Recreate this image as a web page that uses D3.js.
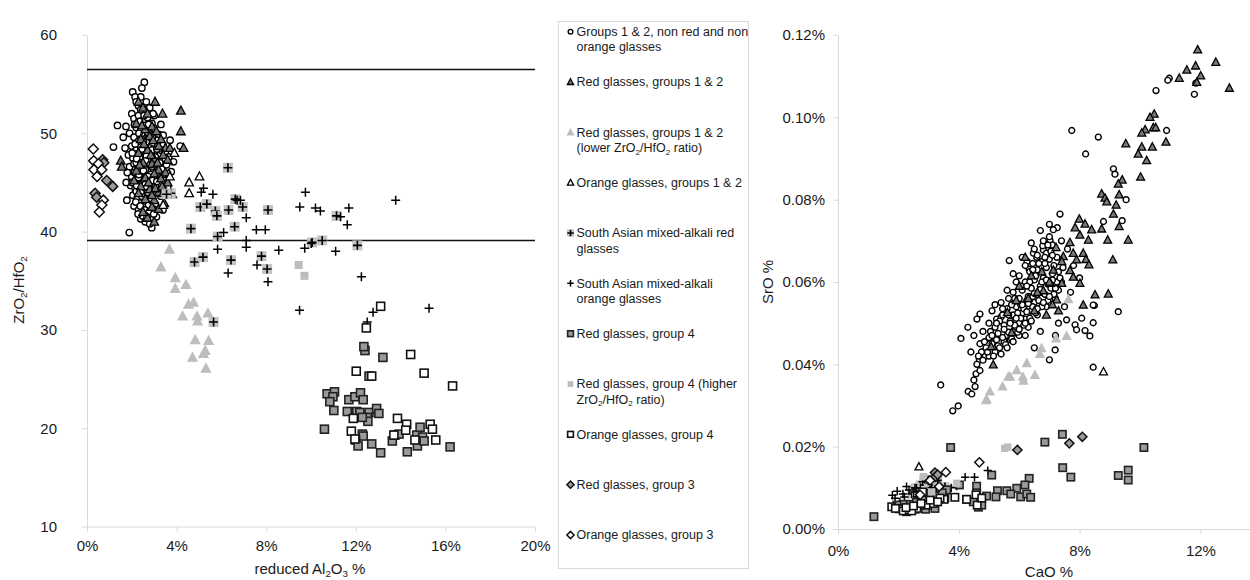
<!DOCTYPE html>
<html>
<head>
<meta charset="utf-8">
<script src="https://cdn.jsdelivr.net/npm/d3@7"></script>
<style>
  body { margin: 0; background: #fff; }
  text { font-family: "Liberation Sans", Arial, sans-serif; fill: #1a1a1a; }
</style>
</head>
<body>
<svg width="1250" height="580"></svg>
<script>
// ---------- data : left panel, reduced Al2O3 % vs ZrO2/HfO2 ----------
const leftCircles = [
  [2.56,55.2],[2.45,54.6],[2.04,54.2],[2.15,53.7],[1.36,50.8],[1.74,50.7],[1.62,49.6],[1.18,48.6],
  [1.78,43.2],[1.89,39.9],[2.89,40.4],[3.71,49.3],[3.86,47.1],[3.76,46.1],[4.16,48.7],[3.39,42.2],
  [2.2,53.2],[2.3,52.8],[2.6,52.4],[3.3,50.9],
  [2.0,52.0],[2.1,51.5],[2.3,51.8],[2.5,51.2],[2.7,51.6],[2.9,51.0],[2.2,50.6],[2.4,50.3],
  [2.6,50.8],[2.8,50.2],[3.0,50.5],[3.2,49.9],[1.9,50.0],[2.1,49.6],[2.3,49.2],[2.5,49.7],
  [2.7,49.4],[2.9,49.0],[3.1,49.3],[3.4,48.8],[2.0,48.7],[2.2,48.3],[2.4,48.6],[2.6,48.1],
  [2.8,48.5],[3.0,48.0],[3.3,48.3],[1.85,47.8],[2.05,47.5],[2.25,47.9],[2.45,47.3],[2.65,47.7],
  [2.85,47.2],[3.05,47.6],[3.25,47.0],[3.5,47.4],[1.9,46.6],[2.1,46.9],[2.3,46.4],[2.5,46.7],
  [2.7,46.2],[2.9,46.6],[3.1,46.0],[3.35,46.4],[3.6,45.9],[2.0,45.6],[2.2,45.9],[2.4,45.3],
  [2.6,45.7],[2.8,45.1],[3.0,45.5],[3.2,44.9],[3.45,45.2],[1.95,44.7],[2.15,44.4],[2.35,44.8],
  [2.55,44.2],[2.75,44.6],[2.95,44.0],[3.15,44.3],[2.05,43.7],[2.25,43.3],[2.45,43.6],[2.65,43.0],
  [2.85,43.4],[3.05,42.8],[2.1,42.6],[2.3,42.2],[2.5,42.5],[2.7,41.9],[2.95,42.3],[2.4,41.3],
  [2.6,41.0],[2.8,40.8],[3.1,41.5],[3.3,43.6],[3.6,44.5],[3.5,48.0],[3.4,49.8],[3.0,51.8],
  [2.8,52.6],[2.4,52.4],[2.2,47.0],[2.6,46.3],[2.75,47.1],[2.4,46.0],[2.55,45.1],[2.35,47.6],
  [2.9,48.3],[2.15,48.9],[2.65,49.1],[2.45,50.0],[2.85,45.8],[3.05,44.6],[2.2,44.1],[2.5,43.9],
  [2.75,42.7],[2.35,42.9],[1.8,46.0],[1.75,45.0],[1.7,48.5],[3.65,47.6],[3.55,46.8],[2.6,44.8],
  [2.3,45.5],
  [2.12,50.9],[2.32,50.0],[2.52,49.2],[2.72,50.1],[2.92,49.6],[3.12,48.4],[2.02,48.0],[2.22,47.4],
  [2.42,47.0],[2.62,47.2],[2.82,46.8],[3.02,46.8],[2.12,46.0],[2.32,45.8],[2.52,46.2],[2.72,45.6],
  [2.92,45.2],[3.12,45.1],[2.02,45.0],[2.22,44.7],[2.42,44.1],[2.62,44.4],[2.82,43.8],[3.02,43.9],
  [2.18,43.0],[2.38,42.6],[2.58,42.2],[2.78,42.0],[2.98,41.8],[2.48,41.6],[2.68,41.5],[2.28,41.8],
  [2.55,51.8],[2.35,51.2],[2.75,50.9],[2.95,52.0],[2.65,53.2],[2.4,53.7],[2.7,44.0],[2.45,48.4]
];
const leftRedTri = [
  [2.3,53.2],[2.5,52.6],[2.7,52.0],[2.2,51.0],[2.6,50.4],[2.9,50.7],[3.1,50.2],[2.4,49.4],
  [2.8,49.7],[3.2,48.7],[3.5,48.5],[2.3,48.0],[2.7,48.3],[3.0,47.4],[3.4,47.8],[2.5,47.0],
  [2.9,46.9],[3.2,46.3],[3.5,46.0],[2.2,46.2],[2.6,45.5],[3.0,45.9],[3.3,45.4],[2.4,44.6],
  [2.8,44.3],[3.2,44.0],[3.5,44.2],[2.6,43.3],[3.0,43.2],[3.4,43.9],[2.9,42.5],[3.2,42.3],
  [2.7,41.4],[3.0,41.0],[1.51,47.2],[1.55,46.6],[3.7,48.5],[3.6,47.3],[3.8,43.8],[4.19,52.3],
  [4.19,50.2],[4.31,48.5],[3.37,52.0],[3.04,53.2],[3.3,49.4],[3.6,45.0],[2.1,45.2],[2.3,43.9],
  [2.55,48.9],[2.85,47.8],[3.15,47.0],[2.75,45.0],[3.05,44.4],[2.35,46.8],[2.9,43.7],[2.5,42.0],
  [3.35,44.6],[3.45,42.9],[2.45,50.8],[2.95,49.3]
];
const leftRedTriLow = [
  [3.68,38.2],[3.30,36.4],[3.94,35.3],[4.42,34.6],[3.94,34.2],[4.76,32.8],[4.53,32.6],[4.27,31.4],
  [4.91,31.4],[4.94,30.9],[5.40,31.7],[4.83,29.0],[5.43,28.9],[5.28,27.9],[5.20,27.6],[4.71,27.2],
  [5.31,26.1]
];
const leftOrangeTri = [[4.56,45.0],[5.02,45.6],[4.56,43.9],[3.9,48.0],[3.7,45.6],[3.4,42.7]];
const leftSARed = [
  [6.29,46.5],[3.74,43.9],[3.55,43.8],[5.06,42.5],[5.35,42.8],[5.73,42.1],[5.80,41.6],[6.32,42.2],
  [6.62,43.3],[6.95,42.5],[8.08,42.2],[4.64,40.3],[6.59,40.5],[5.83,39.5],[4.80,36.9],[5.18,37.4],
  [6.43,37.1],[7.79,37.5],[8.04,36.2],[5.65,30.8],[10.05,38.9],[10.50,39.1],[11.14,41.6],[12.07,38.6]
];
const leftSAOrange = [
  [5.20,44.4],[5.10,44.0],[5.62,43.8],[6.70,43.2],[6.85,43.2],[7.11,41.4],[7.56,40.2],[7.96,40.2],
  [6.10,39.9],[7.11,39.1],[7.11,38.4],[5.83,38.2],[8.56,38.1],[9.75,44.0],[9.50,42.5],[10.20,42.4],
  [10.42,42.1],[11.32,41.5],[11.69,42.4],[11.62,40.7],[9.72,38.3],[10.01,38.8],[11.10,38.0],[6.30,35.8],
  [7.59,36.6],[8.08,34.9],[13.78,43.2],[12.25,35.4],[9.49,32.0],[12.77,31.8],[12.51,30.8],[15.27,32.2]
];
const leftRedSq = [
  [12.41,27.9],[12.36,28.3],[13.21,27.2],[12.59,25.3],[10.72,23.5],[11.05,23.7],[10.98,23.2],[10.84,22.7],
  [11.02,21.8],[10.60,19.9],[11.69,22.9],[11.96,23.2],[12.21,23.6],[12.33,22.9],[11.62,21.7],[12.04,21.7],
  [12.18,21.6],[12.59,21.6],[12.51,21.1],[12.54,20.7],[12.93,22.0],[13.03,21.5],[12.29,21.1],[12.29,19.4],
  [12.33,19.2],[11.99,18.8],[12.10,18.2],[12.71,18.4],[13.11,17.5],[13.63,18.7],[13.75,19.3],[13.93,19.4],
  [14.30,17.6],[14.72,19.3],[14.75,18.2],[14.87,20.1],[14.98,19.1],[15.05,18.7],[16.21,18.1]
];
const leftRedSqHigh = [[9.45,36.6],[9.71,35.5]];
const leftOrangeSq = [
  [13.11,32.4],[12.47,30.2],[14.45,27.5],[12.02,25.8],[15.05,25.6],[16.32,24.3],[13.86,21.0],[14.27,20.4],
  [14.23,19.8],[11.80,19.7],[15.32,20.4],[15.42,19.9],[15.57,18.8],[14.64,18.8],[13.70,19.3],[11.96,18.9],
  [11.89,21.0],[12.71,25.3]
];
const leftRedDia = [[0.70,47.3],[0.75,47.0],[0.88,45.2],[1.15,44.6],[0.36,43.9],[0.43,43.5]];
const leftOrangeDia = [[0.28,48.4],[0.30,47.2],[0.51,46.9],[0.31,46.3],[0.66,46.3],[0.73,43.2],[0.66,42.7],[0.55,42.0],[0.45,45.6]];

// ---------- data : right panel, CaO % vs SrO % ----------
const rightCircles = [
  [7.74,0.0968],[8.62,0.0952],[8.20,0.0911],[10.53,0.1065],[10.97,0.1095],[10.92,0.1090],[11.80,0.1056],[11.85,0.1083],
  [10.88,0.0968],[9.12,0.0875],[9.17,0.0862],[9.54,0.0800],[9.41,0.0749],[8.79,0.0747],[7.35,0.0765],[7.26,0.0732],
  [7.13,0.0727],[5.67,0.0652],[9.28,0.0528],[8.49,0.0543],[4.70,0.0522],[5.25,0.0510],[4.07,0.0463],[3.40,0.0350],
  [3.80,0.0287],[3.98,0.0299],[4.31,0.0334],[4.43,0.0328],[4.54,0.0346],[4.50,0.0362],[4.57,0.0377],[4.70,0.0385],
  [4.68,0.0411],[4.87,0.0419],[5.01,0.0463],[8.45,0.0544],[8.45,0.0501],[8.34,0.0469],[8.45,0.0393],[8.18,0.0482],
  [7.85,0.0496],[7.90,0.0484],[7.00,0.0411],[7.19,0.0435],[7.57,0.0508],[8.07,0.0512],[6.33,0.0631],[6.47,0.0670],
  [6.80,0.0678],[6.78,0.0688],[7.02,0.0701],[6.26,0.0650],[6.58,0.0660],
  [4.6,0.0400],[4.8,0.0410],[5.0,0.0420],[5.2,0.0430],[4.9,0.0440],[5.1,0.0450],[5.3,0.0445],[5.5,0.0455],
  [5.0,0.0465],[5.3,0.0475],[5.6,0.0470],[5.8,0.0480],[5.2,0.0490],[5.5,0.0495],[5.7,0.0505],[6.0,0.0500],
  [6.2,0.0510],[5.4,0.0515],[5.8,0.0520],[6.1,0.0525],[6.4,0.0530],[5.6,0.0535],[5.9,0.0540],[6.2,0.0545],
  [6.5,0.0550],[6.0,0.0560],[6.3,0.0565],[6.6,0.0570],[5.8,0.0575],[6.1,0.0580],[6.4,0.0585],[6.7,0.0590],
  [6.2,0.0600],[6.5,0.0605],[6.8,0.0610],[6.0,0.0615],[6.35,0.0625],[6.6,0.0630],[6.9,0.0635],[6.45,0.0645],
  [6.75,0.0650],[7.0,0.0655],[6.6,0.0665],[6.9,0.0670],[7.1,0.0690],[6.8,0.0700],[7.0,0.0710],[5.0,0.0500],
  [5.35,0.0505],[5.7,0.0460],[6.0,0.0470],[6.3,0.0490],[6.6,0.0520],[6.9,0.0540],[7.2,0.0560],[7.4,0.0600],
  [7.1,0.0620],[7.3,0.0580],[4.4,0.0430],[4.7,0.0450],[4.5,0.0470],[4.8,0.0480],[5.1,0.0530],[5.4,0.0550],
  [5.6,0.0580],[5.9,0.0600],[6.2,0.0640],[6.5,0.0680],[5.2,0.0545],[5.8,0.0620],[6.1,0.0660],
  [6.4,0.0695],[6.7,0.0725],[7.0,0.0740],[6.05,0.0545],[6.25,0.0555],[6.45,0.0565],[5.75,0.0545],[5.95,0.0525],
  [6.15,0.0535],[6.35,0.0600],[6.55,0.0615],[6.75,0.0600],[6.95,0.0595],[5.65,0.0520],[5.45,0.0535],[5.25,0.0460],
  [5.05,0.0480],[4.85,0.0455],[6.85,0.0660],[7.15,0.0640],[7.3,0.0500],[7.5,0.0540],[7.7,0.0575],[8.0,0.0610],
  [7.8,0.0640],[7.6,0.0680],[7.4,0.0700],[7.2,0.0470],[6.5,0.0440],[6.2,0.0470],[5.9,0.0490],[6.7,0.0480],
  [4.6,0.0510],[4.3,0.0490],
  [5.35,0.0440],[5.45,0.0465],[5.55,0.0448],[5.65,0.0478],[5.75,0.0462],[5.85,0.0495],[5.95,0.0478],[6.05,0.0512],
  [6.15,0.0495],[6.25,0.0528],[6.35,0.0512],[6.45,0.0540],[6.55,0.0525],[6.65,0.0555],[6.75,0.0540],[6.85,0.0570],
  [6.95,0.0555],[7.05,0.0585],[7.15,0.0570],[7.25,0.0600],[5.5,0.0485],[5.7,0.0500],[5.9,0.0512],[6.1,0.0545],
  [6.3,0.0548],[6.5,0.0572],[6.7,0.0582],[6.9,0.0605],[7.1,0.0605],[7.3,0.0625],[5.25,0.0500],[5.45,0.0520],
  [5.65,0.0560],[5.85,0.0560],[6.05,0.0590],[6.25,0.0590],[6.45,0.0630],[6.65,0.0645],[6.85,0.0645],[7.05,0.0675],
  [4.95,0.0430],[5.15,0.0420],[5.1,0.0470],[4.75,0.0430],[4.65,0.0420],[5.4,0.0425],[5.6,0.0440],[5.8,0.0455],
  [6.0,0.0485],[6.2,0.0500],[6.4,0.0505],[6.6,0.0535],[6.8,0.0550],[7.0,0.0565],[7.2,0.0585],[7.35,0.0610],
  [7.45,0.0635],[7.25,0.0660],[7.1,0.0665],[6.95,0.0690]
];
const rightRedTri = [
  [11.91,0.1164],[12.51,0.1134],[12.96,0.1071],[11.55,0.1115],[11.30,0.1095],[11.84,0.1125],[12.01,0.1101],[11.88,0.1085],
  [10.47,0.1008],[10.33,0.1000],[10.17,0.0970],[10.06,0.0962],[10.44,0.0975],[10.52,0.0975],[9.53,0.0936],[10.06,0.0928],
  [10.41,0.0928],[10.86,0.0940],[9.94,0.0911],[10.22,0.0895],[10.02,0.0855],[9.41,0.0848],[9.28,0.0838],[8.73,0.0814],
  [8.84,0.0804],[8.90,0.0795],[9.31,0.0812],[9.21,0.0787],[9.12,0.0765],[9.31,0.0735],[8.73,0.0729],[8.40,0.0727],
  [8.29,0.0702],[8.93,0.0702],[9.61,0.0702],[9.10,0.0654],[7.99,0.0753],[7.85,0.0732],[8.18,0.0741],[8.01,0.0714],
  [7.68,0.0696],[7.22,0.0684],[7.79,0.0670],[8.12,0.0670],[8.21,0.0655],[8.31,0.0642],[7.90,0.0654],[7.46,0.0662],
  [7.41,0.0650],[7.68,0.0628],[7.79,0.0612],[8.01,0.0597],[7.41,0.0597],[8.51,0.0569],[8.95,0.0571],[8.12,0.0544],
  [5.61,0.0526],[7.24,0.0557],[6.80,0.0579],[7.04,0.0597],[7.13,0.0629],[5.75,0.0477],[5.07,0.0443],[5.14,0.0399],
  [6.3,0.0560],[6.6,0.0575],[6.9,0.0520],[7.1,0.0545],[6.75,0.0625],[7.0,0.0600],[6.4,0.0615],[6.2,0.0660],
  [6.0,0.0590],[6.5,0.0530],[7.3,0.0530],[5.9,0.0555]
];
const rightRedTriLow = [
  [7.63,0.0558],[7.22,0.0463],[7.57,0.0469],[6.74,0.0439],[6.69,0.0425],[6.25,0.0403],[6.52,0.0374],[6.12,0.0370],
  [6.14,0.0360],[5.70,0.0370],[5.45,0.0346],[5.03,0.0334],[4.92,0.0315],[5.92,0.0386],[4.90,0.0313],[5.64,0.0370]
];
const rightOrangeTri = [[8.79,0.0382],[2.68,0.0151]];
const rightSARed = [
  [2.44,0.0085],[2.72,0.0107],[2.99,0.0111],[3.21,0.0107],[3.54,0.0103],[2.85,0.0122],[3.3,0.0118],[2.6,0.0078],
  [2.55,0.0100],[3.05,0.0095]
];
const rightSAOrange = [
  [1.96,0.0092],[1.89,0.0075],[2.27,0.0103],[2.60,0.0099],[2.90,0.0126],[3.93,0.0104],[4.21,0.0126],[4.52,0.0126],
  [4.96,0.0142],[2.05,0.0066],[2.5,0.0090],[3.1,0.0100],[3.4,0.0095],[3.75,0.0100],[2.15,0.0085],[2.35,0.0095],
  [2.7,0.0092],[2.8,0.0115],[3.0,0.0120],[3.25,0.0090],[1.8,0.0082],[2.2,0.0078]
];
const rightRedSq = [
  [1.19,0.0030],[3.73,0.0198],[6.85,0.0211],[7.43,0.0230],[7.44,0.0149],[7.71,0.0126],[10.13,0.0198],[9.28,0.0130],
  [9.61,0.0143],[9.61,0.0119],[5.09,0.0131],[6.33,0.0123],[6.19,0.0107],[5.92,0.0099],[5.59,0.0093],[5.28,0.0093],
  [4.92,0.0080],[5.23,0.0078],[5.72,0.0085],[6.05,0.0078],[6.25,0.0085],[6.38,0.0077],[4.59,0.0104],[4.59,0.0088],
  [4.26,0.0072],[4.48,0.0066],[4.72,0.0075],[4.65,0.0053],[4.76,0.0058],[4.02,0.0107],[3.21,0.0066],[3.21,0.0050],
  [2.99,0.0069],[2.90,0.0048],[2.55,0.0048],[2.27,0.0042],[2.22,0.0056],[2.05,0.0050],[3.54,0.0075],[3.60,0.0095],
  [3.0,0.0080],[2.7,0.0058],[2.4,0.0060],[2.6,0.0065],[2.8,0.0070],[3.1,0.0085],[3.3,0.0080],[3.45,0.0088],
  [2.15,0.0060],[1.95,0.0058]
];
const rightRedSqHigh = [[5.52,0.0196],[5.62,0.0199],[3.93,0.0111],[2.83,0.0127],[3.1,0.0090]];
const rightOrangeSq = [
  [1.78,0.0054],[2.03,0.0049],[2.16,0.0044],[2.36,0.0046],[2.61,0.0050],[2.96,0.0058],[3.16,0.0062],[3.51,0.0072],
  [3.87,0.0077],[4.26,0.0072],[4.57,0.0083],[4.61,0.0058],[3.38,0.0075],[2.44,0.0044],[4.76,0.0075],[2.8,0.0090],
  [2.25,0.0052],[2.5,0.0056],[2.75,0.0062],[3.05,0.0070],[3.3,0.0066],[1.9,0.0050]
];
const rightRedDia = [[5.94,0.0192],[7.66,0.0208],[8.09,0.0224],[3.21,0.0137],[3.23,0.0127],[3.3,0.0132]];
const rightOrangeDia = [[4.68,0.0162],[3.57,0.0138],[3.35,0.0103],[2.72,0.0083],[3.05,0.0118]];

// ---------- ticks, reference lines, labels ----------
const leftXTicks = [0, 4, 8, 12, 16, 20];
const leftYTicks = [10, 20, 30, 40, 50, 60];
const leftRefLines = [56.5, 39.1];
const rightXTicks = [0, 4, 8, 12];
const rightYTicks = [0, 0.02, 0.04, 0.06, 0.08, 0.10, 0.12];

const seriesNames = ['circle', 'redTri', 'redTriLow', 'orangeTri', 'saRed', 'saOrange',
                     'redSq', 'redSqHigh', 'orangeSq', 'redDia', 'orangeDia'];
const legendLabels = [
  ['Groups 1 & 2, non red and non', 'orange glasses'],
  ['Red glasses, groups 1 & 2'],
  ['Red glasses, groups 1 & 2', '(lower ZrO_2/HfO_2 ratio)'],
  ['Orange glasses, groups 1 & 2'],
  ['South Asian mixed-alkali red', 'glasses'],
  ['South Asian mixed-alkali', 'orange glasses'],
  ['Red glasses, group 4'],
  ['Red glasses, group 4 (higher', 'ZrO_2/HfO_2 ratio)'],
  ['Orange glasses, group 4'],
  ['Red glasses, group 3'],
  ['Orange glasses, group 3']
];
const leftSeries = [leftCircles, leftRedTri, leftRedTriLow, leftOrangeTri, leftSARed, leftSAOrange,
                    leftRedSq, leftRedSqHigh, leftOrangeSq, leftRedDia, leftOrangeDia];
const rightSeries = [rightCircles, rightRedTri, rightRedTriLow, rightOrangeTri, rightSARed, rightSAOrange,
                     rightRedSq, rightRedSqHigh, rightOrangeSq, rightRedDia, rightOrangeDia];

// ---------- marker styles ----------
const styles = {
  circle:    {shape: 'circle',   fill: '#fff',    stroke: '#000', sw: 1.4},
  redTri:    {shape: 'triangle', fill: '#7a7a7a', stroke: '#000', sw: 1.3},
  redTriLow: {shape: 'bigTri',   fill: '#bdbdbd', stroke: 'none', sw: 0},
  orangeTri: {shape: 'triangle', fill: '#fff',    stroke: '#000', sw: 1.3},
  saRed:     {shape: 'plusBox',  fill: '#c4c4c4', stroke: '#000', sw: 1.6},
  saOrange:  {shape: 'plus',     fill: 'none',    stroke: '#000', sw: 1.5},
  redSq:     {shape: 'square',   fill: '#9a9a9a', stroke: '#222', sw: 1.6},
  redSqHigh: {shape: 'smallSq',  fill: '#bdbdbd', stroke: 'none', sw: 0},
  orangeSq:  {shape: 'square',   fill: '#fff',    stroke: '#111', sw: 1.6},
  redDia:    {shape: 'diamond',  fill: '#9a9a9a', stroke: '#111', sw: 1.5},
  orangeDia: {shape: 'diamond',  fill: '#fff',    stroke: '#111', sw: 1.5}
};

function drawMarker(g, shape, st, k) {
  const s = k || 1;
  if (shape === 'circle') {
    g.append('circle').attr('r', 3.2 * s);
  } else if (shape === 'triangle') {
    g.append('path').attr('d', `M0,${-4.6*s}L${4.3*s},${3.4*s}L${-4.3*s},${3.4*s}Z`);
  } else if (shape === 'bigTri') {
    g.append('path').attr('d', `M0,${-6*s}L${5.6*s},${4.4*s}L${-5.6*s},${4.4*s}Z`);
  } else if (shape === 'square' || shape === 'smallSq') {
    g.append('rect').attr('x', -4 * s).attr('y', -4 * s).attr('width', 8 * s).attr('height', 8 * s);
  } else if (shape === 'diamond') {
    g.append('path').attr('d', `M0,${-5*s}L${5*s},0L0,${5*s}L${-5*s},0Z`);
  } else if (shape === 'plus' || shape === 'plusBox') {
    if (shape === 'plusBox') {
      g.append('rect').attr('x', -5 * s).attr('y', -5 * s).attr('width', 10 * s).attr('height', 10 * s)
        .attr('fill', st.fill).attr('stroke', 'none');
    }
    g.append('path').attr('d', `M${-4.5*s},0H${4.5*s}M0,${-4.5*s}V${4.5*s}`)
      .attr('fill', 'none');
    g.selectAll('path').attr('stroke', st.stroke).attr('stroke-width', st.sw);
    return;
  }
  g.selectAll('*').attr('fill', st.fill).attr('stroke', st.stroke).attr('stroke-width', st.sw);
}

// text with "_2" style subscripts
function richText(sel, str, size) {
  const parts = str.split(/(_\d)/).filter(p => p.length);
  let sub = false;
  parts.forEach(p => {
    if (p[0] === '_') {
      sel.append('tspan').attr('font-size', size * 0.65).attr('dy', size * 0.22).text(p.slice(1));
      sub = true;
    } else {
      sel.append('tspan').attr('dy', sub ? -size * 0.22 : 0).text(p);
      sub = false;
    }
  });
}

const svg = d3.select('svg');

function styleAxis(g) {
  g.selectAll('.domain').attr('stroke', '#d9d9d9');
  g.selectAll('.tick line').attr('stroke', '#d9d9d9');
  g.selectAll('.tick text').attr('font-size', 15).attr('fill', '#1a1a1a')
    .attr('font-family', '"Liberation Sans", Arial, sans-serif');
}

function drawSeries(layer, series, x, y, k) {
  series.forEach((pts, i) => {
    const st = styles[seriesNames[i]];
    layer.append('g').selectAll('g').data(pts).join('g')
      .attr('transform', d => `translate(${x(d[0])},${y(d[1])})`)
      .each(function () { drawMarker(d3.select(this), st.shape, st, k); });
  });
}

// ---------- left panel ----------
const xL = d3.scaleLinear().domain([0, 20]).range([87, 535]);
const yL = d3.scaleLinear().domain([10, 60]).range([526.5, 35]);

svg.append('g').attr('transform', `translate(0,${yL(10)})`)
  .call(d3.axisBottom(xL).tickValues(leftXTicks).tickSize(5).tickSizeOuter(0).tickPadding(9)
    .tickFormat(d => d + '%'))
  .call(styleAxis);
svg.append('g').attr('transform', `translate(${xL(0)},0)`)
  .call(d3.axisLeft(yL).tickValues(leftYTicks).tickSize(5).tickSizeOuter(0).tickPadding(25))
  .call(styleAxis);

svg.append('g').selectAll('line').data(leftRefLines).join('line')
  .attr('x1', xL(0)).attr('x2', xL(20))
  .attr('y1', d => yL(d)).attr('y2', d => yL(d))
  .attr('stroke', '#111').attr('stroke-width', 1.5);

drawSeries(svg.append('g'), leftSeries, xL, yL, 1);

richText(svg.append('text').attr('x', 310).attr('y', 574).attr('text-anchor', 'middle')
  .attr('font-size', 15), 'reduced Al_2O_3 %', 15);
richText(svg.append('text').attr('transform', 'translate(24,290) rotate(-90)')
  .attr('text-anchor', 'middle').attr('font-size', 15), 'ZrO_2/HfO_2', 15);

// ---------- legend ----------
const legend = svg.append('g');
legend.append('rect').attr('x', 558.5).attr('y', 21.5).attr('width', 190).attr('height', 547)
  .attr('fill', '#fff').attr('stroke', '#d9d9d9');
legendLabels.forEach((lines, i) => {
  const cy = 31.7 + i * 50.33;
  const st = styles[seriesNames[i]];
  const m = legend.append('g').attr('transform', `translate(570.5,${cy})`);
  drawMarker(m, st.shape, st, 0.72);
  lines.forEach((ln, j) => {
    const t = legend.append('text').attr('x', 576.5).attr('y', cy + 4.4 + j * 15.2).attr('font-size', 12.5);
    richText(t, ln, 12.5);
  });
});

// ---------- right panel ----------
const xR = d3.scaleLinear().domain([0, 14]).range([838, 838 + 14 * 30.2]);
const yR = d3.scaleLinear().domain([0, 0.12]).range([529, 35]);

svg.append('g').attr('transform', `translate(0,${yR(0)})`)
  .call(d3.axisBottom(xR).tickValues(rightXTicks).tickSize(5).tickSizeOuter(0).tickPadding(11)
    .tickFormat(d => d + '%'))
  .call(styleAxis);
svg.append('g').attr('transform', `translate(${xR(0)},0)`)
  .call(d3.axisLeft(yR).tickValues(rightYTicks).tickSize(5).tickSizeOuter(0).tickPadding(8)
    .tickFormat(d => d3.format('.2f')(d) + '%'))
  .call(styleAxis);

drawSeries(svg.append('g'), rightSeries, xR, yR, 0.92);

svg.append('text').attr('x', 1049).attr('y', 577).attr('text-anchor', 'middle')
  .attr('font-size', 15).text('CaO %');
svg.append('text').attr('transform', 'translate(773,282) rotate(-90)')
  .attr('text-anchor', 'middle').attr('font-size', 15).text('SrO %');
</script>
</body>
</html>
